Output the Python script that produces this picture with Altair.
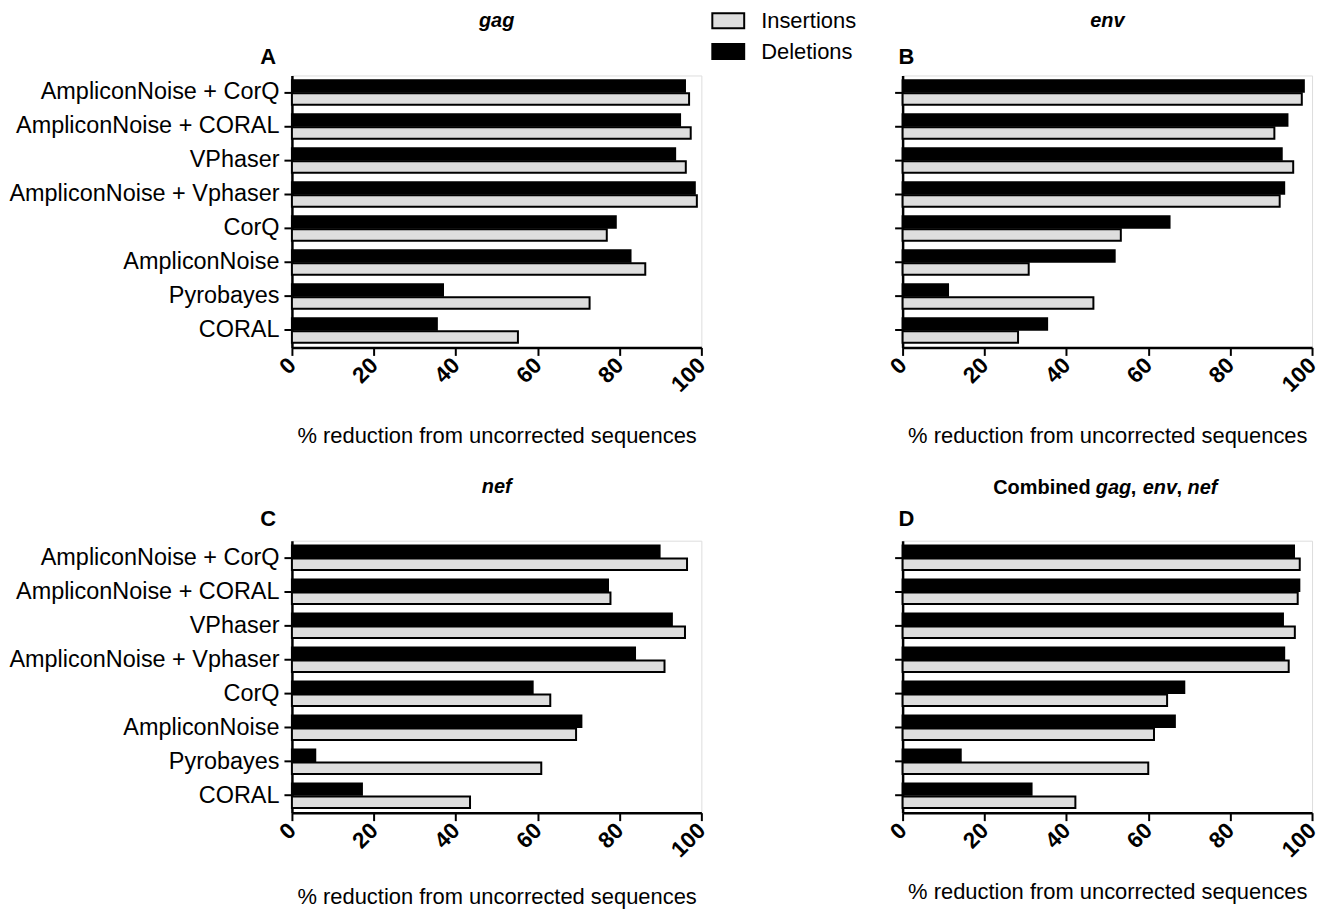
import altair as alt
import pandas as pd

categories = ["AmpliconNoise + CorQ", "AmpliconNoise + CORAL", "VPhaser",
              "AmpliconNoise + Vphaser", "CorQ", "AmpliconNoise", "Pyrobayes", "CORAL"]
series = ["Insertions", "Deletions"]

gag_ins = [97.0, 97.4, 96.2, 98.9, 76.9, 86.3, 72.7, 55.2]
gag_del = [96.0, 94.8, 93.6, 98.4, 79.1, 82.7, 36.9, 35.4]
env_ins = [97.5, 90.8, 95.4, 92.1, 53.3, 30.8, 46.6, 28.2]
env_del = [98.0, 94.0, 92.6, 93.2, 65.2, 51.8, 11.1, 35.3]
nef_ins = [96.5, 77.8, 96.0, 91.0, 63.1, 69.4, 60.9, 43.5]
nef_del = [89.8, 77.2, 92.8, 83.8, 58.8, 70.7, 5.7, 17.1]
comb_ins = [97.0, 96.5, 95.8, 94.3, 64.6, 61.4, 60.0, 42.2]
comb_del = [95.6, 96.9, 92.9, 93.2, 68.8, 66.5, 14.2, 31.5]

FONT = "Liberation Sans"
W, H = 411, 273


def panel(ins, dele, show_labels, letter, letter_x, letter_y, title_parts, label_expr=None,
          title_pad=30):
    df = pd.DataFrame({
        "method": categories * 2,
        "type": ["Insertions"] * len(categories) + ["Deletions"] * len(categories),
        "value": ins + dele,
    })
    yaxis_kw = dict(title=None, labels=show_labels, ticks=True, tickSize=8, tickWidth=2,
                    domainWidth=2.5, labelFontSize=23.5, labelPadding=5, labelColor="black",
                    labelFont=FONT, labelLimit=0, domainColor="black", tickColor="black",
                    grid=False)
    if label_expr:
        yaxis_kw["labelExpr"] = label_expr
    bars = alt.Chart(df).mark_bar(stroke="black", strokeWidth=2).encode(
        y=alt.Y("method:N", sort=categories, axis=alt.Axis(**yaxis_kw),
                scale=alt.Scale(paddingInner=0.28, paddingOuter=0.14)),
        yOffset=alt.YOffset("type:N", sort=["Deletions", "Insertions"],
                            scale=alt.Scale(paddingInner=0.12)),
        x=alt.X("value:Q", scale=alt.Scale(domain=[0, 100], nice=False),
                axis=alt.Axis(values=[0, 20, 40, 60, 80, 100], labelAngle=315,
                              labelAlign="right", labelBaseline="middle",
                              labelFontSize=22.5, labelFontWeight="bold", labelFont=FONT,
                              labelPadding=6, labelColor="black",
                              tickSize=8, tickWidth=2, domainWidth=2.5,
                              domainColor="black", tickColor="black", grid=False,
                              title="% reduction from uncorrected sequences",
                              titleFontSize=22, titleFontWeight="normal", titleFont=FONT,
                              titleColor="black", titlePadding=title_pad)),
        color=alt.Color("type:N", scale=alt.Scale(domain=series, range=["#dedede", "black"]),
                        legend=alt.Legend(title=None, orient="none", legendX=427, legendY=-66,
                                          symbolType="M-1.6,-0.75H1.6V0.75H-1.6Z",
                                          symbolSize=400, symbolStrokeColor="black",
                                          symbolStrokeWidth=2, labelFontSize=22,
                                          labelFont=FONT, labelColor="black",
                                          labelOffset=22, rowPadding=7)),
    )
    layers = [bars]
    layers.append(
        alt.Chart(pd.DataFrame({"t": [letter]})).mark_text(
            font=FONT, fontSize=22, fontWeight="bold", align="left" if letter_x > -10 else "right",
            baseline="middle", color="black"
        ).encode(text="t:N", x=alt.value(letter_x), y=alt.value(letter_y))
    )
    for txt, italic, xo, yo, align in title_parts:
        layers.append(
            alt.Chart(pd.DataFrame({"t": [txt]})).mark_text(
                font=FONT, fontSize=20, fontWeight="bold",
                fontStyle="italic" if italic else "normal",
                align=align, baseline="middle", color="black"
            ).encode(text="t:N", x=alt.value(xo), y=alt.value(yo))
        )
    return alt.layer(*layers).properties(width=W, height=H)


a_expr = "datum.label == 'VPhaser' || datum.label == 'Pyrobayes' ? datum.label + ' ' : datum.label"

pA = panel(gag_ins, gag_del, True, "A", -16, -19, [("gag", True, W / 2, -55, "center")], a_expr)
pB = panel(env_ins, env_del, False, "B", -4, -19, [("env", True, W / 2, -55, "center")])
pC = panel(nef_ins, nef_del, True, "C", -16, -22, [("nef", True, W / 2, -54, "center")],
           title_pad=26)
comb = [("Combined ", False, 91, -53, "left"), ("gag", True, 194, -53, "left"),
        (",", False, 229, -53, "left"), ("env", True, 241, -53, "left"),
        (",", False, 275, -53, "left"), ("nef", True, 286, -53, "left")]
pD = panel(comb_ins, comb_del, False, "D", -4, -22, comb, title_pad=20)

chart = alt.vconcat(
    alt.hconcat(pA, pB, spacing=175),
    alt.hconcat(pC, pD, spacing=175),
    spacing=28,
).properties(padding={"left": 0, "top": 0, "right": 0, "bottom": 0}).configure_view(
    stroke=None
).configure(font=FONT)

chart.save("out.html", embed_options={"renderer": "svg", "actions": False})
